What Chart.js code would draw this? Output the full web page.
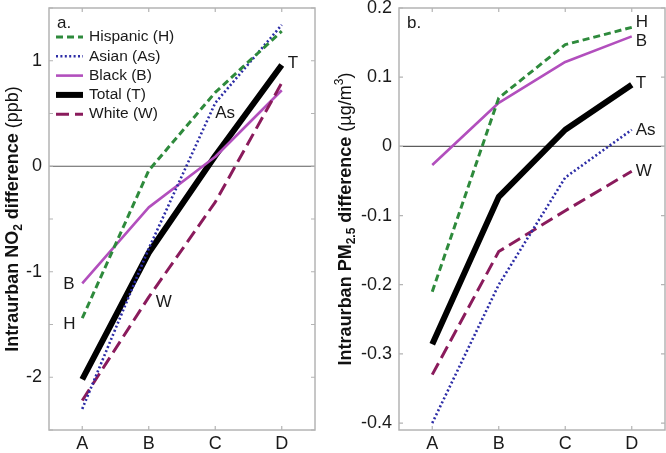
<!DOCTYPE html>
<html><head><meta charset="utf-8">
<script src="https://cdn.jsdelivr.net/npm/chart.js@4"></script>
<style>
html,body{margin:0;padding:0;background:#fff;}
#wrap{position:relative;width:666px;height:453px;overflow:hidden;}
.c{position:absolute;top:0;width:333px;height:453px;}
</style></head><body>
<div id="wrap">
<div class="c" style="left:0"><canvas id="ca" width="333" height="453"></canvas></div>
<div class="c" style="left:333px"><canvas id="cb" width="333" height="453"></canvas></div>
</div>
<script>
// ---------- data ----------
const categories = ['A', 'B', 'C', 'D'];
const seriesNames = ['Hispanic (H)', 'Asian (As)', 'Black (B)', 'Total (T)', 'White (W)'];

// panel a: intraurban NO2 difference (ppb)
const no2Hispanic = [-1.44, -0.04, 0.70, 1.28];
const no2Asian    = [-2.30, -0.78, 0.60, 1.34];
const no2Black    = [-1.11, -0.39, 0.09, 0.72];
const no2Total    = [-2.02, -0.82, 0.10, 0.96];
const no2White    = [-2.22, -1.24, -0.34, 0.79];
const no2Ticks      = [-2.5, -2, -1.5, -1, -0.5, 0, 0.5, 1, 1.5];
const no2TickLabels = ['', '-2', '', '-1', '', '0', '', '1', ''];

// panel b: intraurban PM2.5 difference (ug/m3)
const pmHispanic = [-0.210, 0.070, 0.147, 0.172];
const pmAsian    = [-0.400, -0.200, -0.045, 0.024];
const pmBlack    = [-0.027, 0.063, 0.122, 0.159];
const pmTotal    = [-0.286, -0.073, 0.024, 0.089];
const pmWhite    = [-0.330, -0.152, -0.093, -0.036];
const pmTicks      = [-0.4, -0.3, -0.2, -0.1, 0, 0.1, 0.2];
const pmTickLabels = ['-0.4', '-0.3', '-0.2', '-0.1', '0', '0.1', '0.2'];

// line-end text labels (category index + value where the text sits)
const no2Labels = [
  {text: 'T',  cat: 3, value: 0.98,  dx: 6},
  {text: 'As', cat: 2, value: 0.50,  dx: 0},
  {text: 'B',  cat: 0, value: -1.12, dx: -19},
  {text: 'H',  cat: 0, value: -1.50, dx: -19},
  {text: 'W',  cat: 1, value: -1.29, dx: 7}
];
const pmLabels = [
  {text: 'H',  cat: 3, value: 0.180,  dx: 4},
  {text: 'B',  cat: 3, value: 0.152,  dx: 4},
  {text: 'T',  cat: 3, value: 0.091,  dx: 4},
  {text: 'As', cat: 3, value: 0.023,  dx: 4},
  {text: 'W',  cat: 3, value: -0.036, dx: 4}
];

// ---------- styles ----------
const FONT = "'Liberation Sans', Arial, Helvetica, sans-serif";
const styles = [
  {color: '#2e8a3c', width: 3,   dash: [7, 4],    order: 1},
  {color: '#2c2ca6', width: 2.6, dash: [2, 2.4],  order: 1},
  {color: '#b24fbd', width: 2.6, dash: [],        order: 2},
  {color: '#000000', width: 6,   dash: [],        order: 5},
  {color: '#8a1b5c', width: 3,   dash: [13, 6],   order: 1}
];

function makeDatasets(arrs) {
  return arrs.map((d, i) => ({
    label: seriesNames[i],
    data: d,
    borderColor: styles[i].color,
    backgroundColor: styles[i].color,
    borderWidth: styles[i].width,
    borderDash: styles[i].dash,
    borderCapStyle: 'butt',
    borderJoinStyle: 'round',
    order: styles[i].order,
    pointRadius: 0,
    tension: 0,
    fill: false
  }));
}

const framePlugin = {
  id: 'frame',
  beforeDatasetsDraw(chart) {
    const {ctx, chartArea: a, scales: {x, y}} = chart;
    ctx.save();
    // zero line
    const y0 = y.getPixelForValue(0);
    ctx.strokeStyle = '#5c5c5c'; ctx.lineWidth = 1.2;
    ctx.beginPath(); ctx.moveTo(a.left, y0); ctx.lineTo(a.right, y0); ctx.stroke();
    // box
    ctx.strokeStyle = '#b4b4b4'; ctx.lineWidth = 1.5;
    ctx.strokeRect(a.left, a.top, a.right - a.left, a.bottom - a.top);
    // inner ticks
    const tl = 4;
    ctx.lineWidth = 1.2;
    y.ticks.forEach(t => {
      const py = y.getPixelForValue(t.value);
      ctx.beginPath();
      ctx.moveTo(a.left, py); ctx.lineTo(a.left + tl, py);
      ctx.moveTo(a.right, py); ctx.lineTo(a.right - tl, py);
      ctx.stroke();
    });
    categories.forEach((c, i) => {
      const px = x.getPixelForValue(i);
      ctx.beginPath();
      ctx.moveTo(px, a.top); ctx.lineTo(px, a.top + tl);
      ctx.moveTo(px, a.bottom); ctx.lineTo(px, a.bottom - tl);
      ctx.stroke();
    });
    ctx.restore();
  },
  afterDatasetsDraw(chart, args, opts) {
    const {ctx, chartArea: a, scales: {x, y}} = chart;
    ctx.save();
    ctx.fillStyle = '#1a1a1a';
    ctx.textBaseline = 'middle';
    ctx.textAlign = 'left';
    // panel letter
    ctx.font = '17px ' + FONT;
    ctx.fillText(opts.panel, a.left + 8, a.top + 15);
    // end labels
    ctx.font = '17px ' + FONT;
    (opts.labels || []).forEach(l => {
      ctx.fillText(l.text, x.getPixelForValue(l.cat) + l.dx, y.getPixelForValue(l.value));
    });
    // legend
    if (opts.legend) {
      chart.data.datasets.forEach((ds, i) => {
        const ry = a.top + 29 + i * 19.3;
        ctx.save();
        ctx.strokeStyle = ds.borderColor;
        ctx.lineWidth = ds.borderWidth;
        ctx.setLineDash(ds.borderDash);
        ctx.beginPath(); ctx.moveTo(a.left + 7, ry); ctx.lineTo(a.left + 34, ry); ctx.stroke();
        ctx.restore();
        ctx.font = '15.5px ' + FONT;
        ctx.fillText(ds.label, a.left + 40, ry);
      });
    }
    ctx.restore();
  },
  afterDraw(chart, args, opts) {
    const {ctx, chartArea: a} = chart;
    const segs = opts.title;
    let total = 0;
    segs.forEach(s => { ctx.font = s.font; s.w = ctx.measureText(s.text).width; total += s.w; });
    ctx.save();
    ctx.translate(13, (a.top + a.bottom) / 2);
    ctx.rotate(-Math.PI / 2);
    ctx.fillStyle = '#111';
    ctx.textBaseline = 'middle';
    ctx.textAlign = 'left';
    let px = -total / 2;
    segs.forEach(s => { ctx.font = s.font; ctx.fillText(s.text, px, s.dy || 0); px += s.w; });
    ctx.restore();
  }
};

function makeChart(id, datasets, yMin, yMax, ticks, tickLabels, rightPad, yWidth, opts) {
  return new Chart(document.getElementById(id), {
    type: 'line',
    data: {labels: categories, datasets},
    options: {
      responsive: false,
      animation: false,
      devicePixelRatio: 1,
      layout: {padding: {left: 0, right: rightPad, top: 8, bottom: 0}},
      plugins: {legend: {display: false}, tooltip: {enabled: false}, frame: opts},
      scales: {
        x: {
          type: 'category', offset: true,
          grid: {display: false, drawTicks: false},
          border: {display: false},
          ticks: {color: '#1a1a1a', font: {family: FONT, size: 18}, padding: 3, maxRotation: 0},
          afterFit: s => { s.height = 23; s.paddingLeft = 0; s.paddingRight = 0; }
        },
        y: {
          min: yMin, max: yMax,
          grid: {display: false, drawTicks: false},
          border: {display: false},
          afterBuildTicks: s => { s.ticks = ticks.map(v => ({value: v})); },
          ticks: {
            color: '#1a1a1a', font: {family: FONT, size: 18}, padding: 7, autoSkip: false,
            callback: (v, i) => tickLabels[i]
          },
          afterFit: s => { s.width = yWidth; s.paddingTop = 0; s.paddingBottom = 0; }
        }
      }
    },
    plugins: [framePlugin]
  });
}

makeChart('ca', makeDatasets([no2Hispanic, no2Asian, no2Black, no2Total, no2White]),
  -2.5, 1.5, no2Ticks, no2TickLabels, 18, 49, {
    panel: 'a.', legend: true, labels: no2Labels,
    title: [
      {text: 'Intraurban NO', font: 'bold 18px ' + FONT},
      {text: '2', font: 'bold 12px ' + FONT, dy: 6},
      {text: ' difference ', font: 'bold 18px ' + FONT},
      {text: '(ppb)', font: '18px ' + FONT}
    ]
  });

makeChart('cb', makeDatasets([pmHispanic, pmAsian, pmBlack, pmTotal, pmWhite]),
  -0.41, 0.2, pmTicks, pmTickLabels, 1, 66, {
    panel: 'b.', legend: false, labels: pmLabels,
    title: [
      {text: 'Intraurban PM', font: 'bold 18px ' + FONT},
      {text: '2.5', font: 'bold 12px ' + FONT, dy: 6},
      {text: ' difference ', font: 'bold 18px ' + FONT},
      {text: '(\u00b5g/m', font: '18px ' + FONT},
      {text: '3', font: '12px ' + FONT, dy: -6},
      {text: ')', font: '18px ' + FONT}
    ]
  });
</script>
</body></html>
